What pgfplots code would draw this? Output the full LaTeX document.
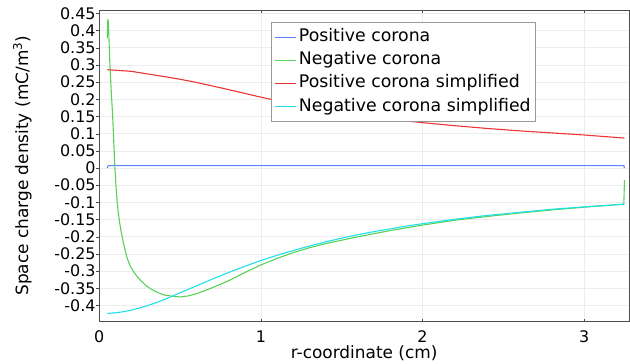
\documentclass[border=0pt]{standalone}
\usepackage{pgfplots}
\pgfplotsset{compat=1.18}
\usepackage{fontspec}
\setmainfont{DejaVu Sans}

\definecolor{lineBlue}{rgb}{0.36,0.52,1.0}
\definecolor{lineGreen}{rgb}{0.35,0.82,0.35}
\definecolor{lineRed}{rgb}{0.93,0.20,0.20}
\definecolor{lineCyan}{rgb}{0.12,0.88,0.92}

% Space charge density along r, positive corona (full model)
\pgfplotstableread{
r rho
0.050 0.000
0.052 0.004
0.055 0.006
0.060 0.007
0.100 0.007
0.500 0.007
1.000 0.007
1.500 0.007
2.000 0.007
2.500 0.007
3.000 0.007
3.246 0.007
3.250 0.000
}\poscorona

% Negative corona (full model)
\pgfplotstableread{
r rho
0.050 0.378
0.053 0.433
0.056 0.425
0.060 0.375
0.066 0.300
0.074 0.225
0.083 0.150
0.090 0.075
0.097 0.000
0.104 -0.055
0.111 -0.100
0.118 -0.130
0.126 -0.158
0.134 -0.181
0.142 -0.200
0.150 -0.218
0.158 -0.235
0.165 -0.249
0.175 -0.265
0.187 -0.280
0.200 -0.292
0.215 -0.303
0.235 -0.316
0.260 -0.329
0.290 -0.342
0.320 -0.352
0.360 -0.362
0.400 -0.369
0.450 -0.373
0.500 -0.375
0.550 -0.372
0.600 -0.366
0.700 -0.348
0.800 -0.328
0.900 -0.304
1.000 -0.282
1.100 -0.263
1.200 -0.246
1.300 -0.232
1.400 -0.220
1.500 -0.210
1.600 -0.200
1.800 -0.182
2.000 -0.166
2.200 -0.152
2.400 -0.141
2.600 -0.131
2.800 -0.122
3.000 -0.114
3.200 -0.107
3.246 -0.105
3.250 -0.035
}\negcorona

% Positive corona, simplified model
\pgfplotstableread{
r rho
0.05 0.286
0.20 0.281
0.40 0.266
0.50 0.258
0.60 0.249
0.80 0.228
1.00 0.206
1.20 0.186
1.40 0.169
1.60 0.154
1.80 0.141
2.00 0.132
2.20 0.123
2.40 0.115
2.60 0.108
2.80 0.102
3.00 0.096
3.25 0.087
}\possimplified

% Negative corona, simplified model
\pgfplotstableread{
r rho
0.05 -0.423
0.10 -0.421
0.15 -0.418
0.20 -0.413
0.25 -0.407
0.30 -0.400
0.35 -0.392
0.40 -0.383
0.45 -0.373
0.50 -0.363
0.60 -0.343
0.70 -0.323
0.80 -0.304
0.90 -0.286
1.00 -0.269
1.10 -0.254
1.20 -0.240
1.30 -0.227
1.40 -0.215
1.50 -0.204
1.60 -0.194
1.70 -0.185
1.80 -0.177
1.90 -0.169
2.00 -0.162
2.20 -0.149
2.40 -0.138
2.60 -0.129
2.80 -0.120
3.00 -0.113
3.25 -0.105
}\negsimplified

\begin{document}
\begin{tikzpicture}
\begin{axis}[
  scale only axis,
  width=530bp, height=311.7bp,
  xmin=0, xmax=3.278,
  ymin=-0.4465, ymax=0.4595,
  xtick={0,1,2,3},
  ytick={-0.4,-0.35,-0.3,-0.25,-0.2,-0.15,-0.1,-0.05,0,0.05,0.1,0.15,0.2,0.25,0.3,0.35,0.4,0.45},
  ytick pos=left,
  tick align=inside,
  major tick length=3bp,
  ytick style={xshift=-3bp, black!70},
  xtick style={black!70},
  /pgf/number format/assume math mode=true,
  /pgf/number format/fixed,
  /pgf/number format/precision=2,
  tick label style={font=\fontsize{16}{18}\selectfont},
  xticklabel style={anchor=base, yshift=-21.3bp, inner sep=0pt},
  yticklabel style={anchor=east, xshift=-3.5bp, inner sep=0pt},
  grid=major,
  major grid style={gray!14, line width=0.6bp},
  axis line style={black!70, line width=0.9bp},
  xlabel={r-coordinate (cm)},
  ylabel={Space charge density (mC/m\textsuperscript{3})},
  every axis x label/.style={at={(axis description cs:0.5,-0.1185)}, anchor=base, inner sep=0pt, font=\fontsize{17}{20}\selectfont},
  every axis y label/.style={at={(axis description cs:-0.1453,0.5)}, rotate=90, anchor=center, inner sep=0pt, font=\fontsize{17}{20}\selectfont},
  legend cell align=left,
  legend image code/.code={\draw[#1, line width=1.1bp] (0bp,0bp) -- (21.6bp,0bp);},
  legend style={
    at={(axis description cs:0,1)}, anchor=north west,
    xshift=171.7bp, yshift=-11.7bp,
    draw=gray!80, fill=white, line width=0.8bp,
    font=\fontsize{17.4}{20}\selectfont,
    inner xsep=3bp, inner ysep=5bp,
    row sep=2.8bp,
    nodes={inner sep=2bp, text height=12.7bp, text depth=3.6bp},
  },
]
\addplot[color=lineBlue, line width=1.1bp] table[x=r, y=rho] {\poscorona};
\addlegendentry{Positive corona}
\addplot[color=lineGreen, line width=1.1bp] table[x=r, y=rho] {\negcorona};
\addlegendentry{Negative corona}
\addplot[color=lineRed, line width=1.1bp] table[x=r, y=rho] {\possimplified};
\addlegendentry{Positive corona simplified}
\addplot[color=lineCyan, line width=1.1bp] table[x=r, y=rho] {\negsimplified};
\addlegendentry{Negative corona simplified}
\coordinate (sw) at (rel axis cs:0,0);
\coordinate (ne) at (rel axis cs:1,1);
\end{axis}
\pgfresetboundingbox
\path ([xshift=-99.3bp,yshift=-42.3bp]sw) rectangle ([xshift=1bp,yshift=10bp]ne);
\end{tikzpicture}
\end{document}
